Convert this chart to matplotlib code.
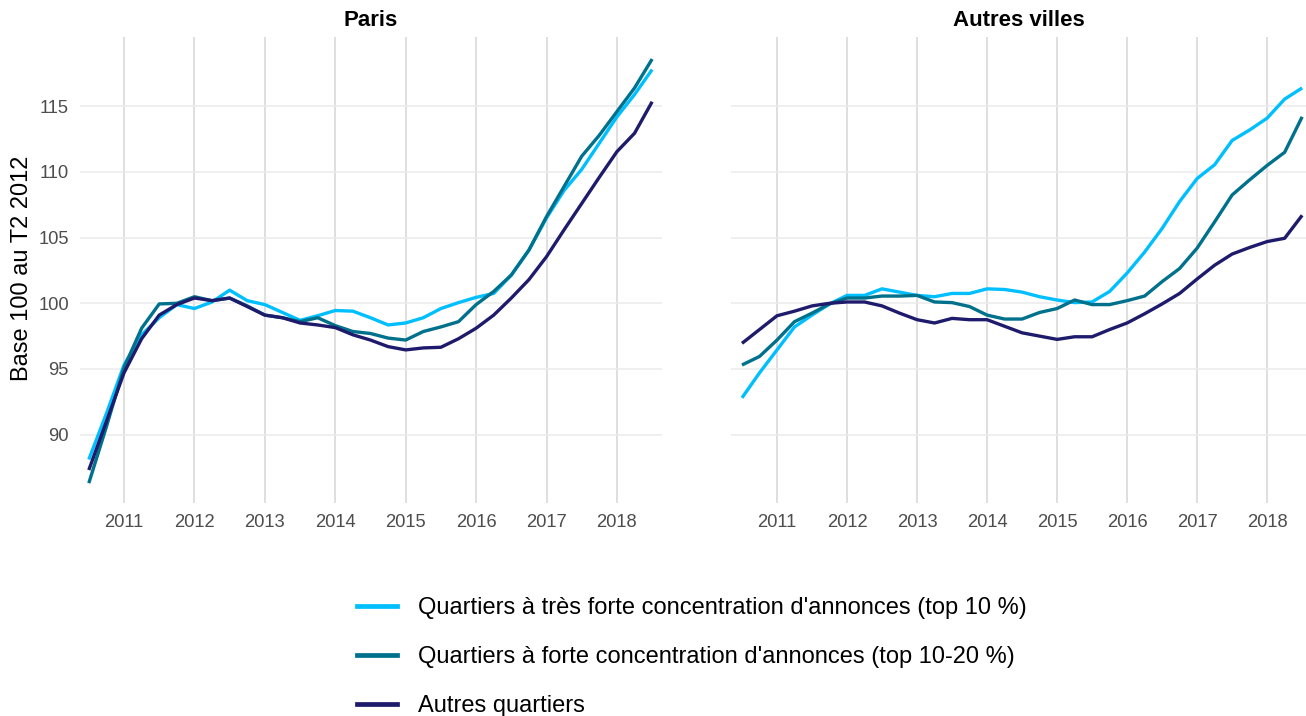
import matplotlib
matplotlib.use("Agg")
import matplotlib.pyplot as plt
import numpy as np
import pandas as pd
from matplotlib.lines import Line2D

plt.rcParams['font.family'] = ['Liberation Sans', 'DejaVu Sans']

# Quarters 2010T3 .. 2018T3
quarters = pd.period_range('2010Q3', '2018Q3', freq='Q')
xq = np.array([p.year + (p.quarter - 1) / 4 for p in quarters])

series_labels = [
    "Quartiers à très forte concentration d'annonces (top 10 %)",
    "Quartiers à forte concentration d'annonces (top 10-20 %)",
    "Autres quartiers",
]
colors = ["#00BFFF", "#00718C", "#1E1B6C"]

paris_top10 = [88.1, 91.6, 95.3, 97.6, 98.9, 99.9, 99.6, 100.1, 101.0, 100.2,
               99.9, 99.3, 98.7, 99.05, 99.45, 99.4, 98.9, 98.35, 98.5, 98.9,
               99.6, 100.05, 100.45, 100.75, 102.15, 104.05, 106.5, 108.6,
               110.2, 112.2, 114.2, 115.9, 117.8]
paris_top10_20 = [86.3, 90.6, 95.1, 98.1, 99.95, 100.0, 100.5, 100.2, 100.4, 99.8,
                  99.1, 98.9, 98.6, 98.9, 98.3, 97.85, 97.7, 97.35, 97.2, 97.85,
                  98.2, 98.6, 99.9, 100.9, 102.15, 104.05, 106.6, 108.9,
                  111.2, 112.8, 114.6, 116.4, 118.6]
paris_autres = [87.3, 91.0, 94.7, 97.3, 99.1, 99.9, 100.4, 100.2, 100.4, 99.75,
                99.1, 98.9, 98.5, 98.35, 98.15, 97.6, 97.2, 96.7, 96.45, 96.6,
                96.65, 97.3, 98.1, 99.1, 100.4, 101.8, 103.55, 105.6,
                107.6, 109.6, 111.55, 112.95, 115.35]

villes_top10 = [92.8, 94.7, 96.45, 98.2, 99.1, 99.95, 100.6, 100.6, 101.1, 100.85,
                100.6, 100.5, 100.75, 100.75, 101.1, 101.05, 100.85, 100.5, 100.25,
                100.05, 100.1, 100.9, 102.3, 103.9, 105.7, 107.75, 109.5, 110.55,
                112.4, 113.2, 114.1, 115.55, 116.4]
villes_top10_20 = [95.3, 95.95, 97.2, 98.6, 99.25, 99.95, 100.4, 100.4, 100.55, 100.55,
                   100.6, 100.1, 100.05, 99.75, 99.1, 98.8, 98.8, 99.3, 99.6,
                   100.25, 99.9, 99.9, 100.2, 100.55, 101.65, 102.65, 104.2, 106.2,
                   108.25, 109.4, 110.5, 111.5, 114.2]
villes_autres = [96.95, 98.0, 99.05, 99.4, 99.8, 100.0, 100.1, 100.1, 99.8, 99.25,
                 98.75, 98.5, 98.85, 98.75, 98.75, 98.25, 97.75, 97.5, 97.25,
                 97.45, 97.45, 98.0, 98.5, 99.2, 99.95, 100.75, 101.85, 102.9,
                 103.75, 104.25, 104.7, 104.95, 106.7]

panel_titles = ["Paris", "Autres villes"]
x_ticks = [2011, 2012, 2013, 2014, 2015, 2016, 2017, 2018]
y_ticks = [90, 95, 100, 105, 110, 115]

W, H = 1306, 716
fig = plt.figure(figsize=(W / 100, H / 100), dpi=100)

ax1 = fig.add_axes([80 / W, (H - 503) / H, 582 / W, 466 / H])
ax2 = fig.add_axes([731 / W, (H - 503) / H, 575 / W, 466 / H])

panels = [
    (ax1, [paris_top10, paris_top10_20, paris_autres], (2010.375, 2018.64)),
    (ax2, [villes_top10, villes_top10_20, villes_autres], (2010.343, 2018.555)),
]

for k, (ax, data, xl) in enumerate(panels):
    for vals, c in zip(data, colors):
        ax.plot(xq, vals, color=c, lw=2.4, solid_capstyle='butt', zorder=3)
    ax.set_xlim(*xl)
    ax.set_ylim(84.79, 120.28)
    ax.set_xticks(x_ticks)
    ax.set_xticklabels([str(t) for t in x_ticks])
    ax.set_yticks(y_ticks)
    if k == 0:
        ax.set_yticklabels([str(t) for t in y_ticks])
    else:
        ax.set_yticklabels([])
    for s in ax.spines.values():
        s.set_visible(False)
    ax.tick_params(length=0, labelsize=13.2, labelcolor="#4D4D4D")
    ax.tick_params(axis='x', pad=8)
    ax.tick_params(axis='y', pad=8)
    ax.grid(axis='y', color="#EBEBEB", lw=1.1, zorder=0)
    ax.grid(axis='x', color="#D6D6D6", lw=1.1, zorder=0)
    ax.set_axisbelow(True)
    ax.set_title(panel_titles[k], fontsize=16, fontweight='bold', pad=8, color='black')

fig.text(22 / W, 1 - 268 / H, "Base 100 au T2 2012", rotation=90,
         ha='center', va='center', fontsize=17, color='black')

handles = [Line2D([0], [0], color=c, lw=3.4) for c in colors]
fig.legend(handles, series_labels, loc='upper left',
           bbox_to_anchor=(357 / W, 1 - 597 / H), frameon=False,
           fontsize=17, handlelength=1.7, handletextpad=0.9,
           labelspacing=1.15, borderpad=0, borderaxespad=0)

fig.savefig("out.png", dpi=100)
